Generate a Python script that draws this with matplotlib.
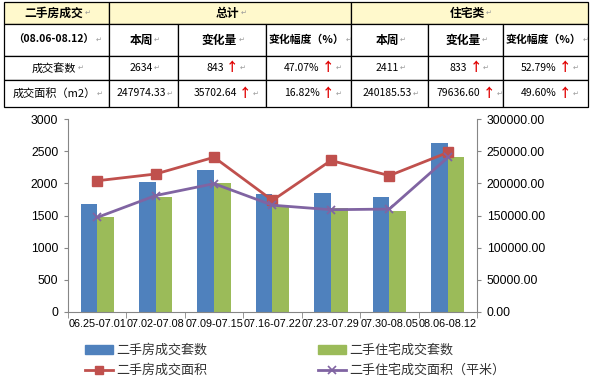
import numpy as np
import matplotlib
matplotlib.use("Agg")
import matplotlib.pyplot as plt
from matplotlib.patches import Rectangle, Patch
from matplotlib.lines import Line2D
from matplotlib.ticker import FormatStrFormatter

# chart data
weeks = ["06.25-07.01", "07.02-07.08", "07.09-07.15", "07.16-07.22",
         "07.23-07.29", "07.30-08.05", "08.06-08.12"]
units_all = [1680, 2020, 2215, 1835, 1850, 1790, 2634]
units_res = [1470, 1790, 2000, 1640, 1610, 1575, 2411]
area_all = [204000, 214500, 240500, 173500, 235500, 212000, 247974.33]
area_res = [147000, 181000, 199500, 166000, 159000, 160000, 240185.53]

names = ["二手房成交套数", "二手住宅成交套数", "二手房成交面积", "二手住宅成交面积（平米）"]

# table data
tbl_title = ["二手房成交", "总计", "住宅类"]
tbl_period = "（08.06-08.12）"
tbl_heads = ["本周", "变化量", "变化幅度（%）"]
tbl_rows = ["成交套数", "成交面积（m2）"]
tbl_total = [["2634", "843", "47.07%"], ["247974.33", "35702.64", "16.82%"]]
tbl_res = [["2411", "833", "52.79%"], ["240185.53", "79636.60", "49.60%"]]

CJK = ["Noto Sans CJK SC", "DejaVu Sans"]
W, H = 590, 383
fig = plt.figure(figsize=(W / 100, H / 100), dpi=100)

#%% table on top
tab = fig.add_axes([0, 0, 1, 1])
tab.set_xlim(0, W)
tab.set_ylim(H, 0)
tab.axis("off")

xs = [4, 109, 178, 266, 351, 428, 503, 588]
ys = [2, 24, 56, 80, 107]
yellow = "#FFF9CC"


def cell(x0, x1, y0, y1, txt, bold=False, arrow=False, size=8, fill="white"):
    tab.add_patch(Rectangle((x0, y0), x1 - x0, y1 - y0, facecolor=fill,
                            edgecolor="black", lw=0.9))
    shift = 7 if arrow else 2.5
    t = tab.text((x0 + x1) / 2 - shift, (y0 + y1) / 2, txt, ha="center", va="center",
                 fontsize=size, fontweight="bold" if bold else "normal",
                 family=CJK, color="black")
    last = t
    if arrow:
        last = tab.annotate("↑", xy=(1, 0.5), xycoords=t, xytext=(1.5, 0),
                            textcoords="offset points", ha="left", va="center",
                            fontsize=9, fontweight="bold", color="#E00000", family=CJK)
    tab.annotate("↵", xy=(1, 0.5), xycoords=last, xytext=(1, 0),
                 textcoords="offset points", ha="left", va="center",
                 fontsize=5, color="#999999", family=["DejaVu Sans"])


# row 1
cell(xs[0], xs[1], ys[0], ys[1], tbl_title[0], bold=True, size=8.5, fill=yellow)
cell(xs[1], xs[4], ys[0], ys[1], tbl_title[1], bold=True, size=8.5, fill=yellow)
cell(xs[4], xs[7], ys[0], ys[1], tbl_title[2], bold=True, size=8.5, fill=yellow)
# row 2
cell(xs[0], xs[1], ys[1], ys[2], tbl_period, bold=True, size=7.5)
for g in range(2):
    for j, h in enumerate(tbl_heads):
        c = 1 + g * 3 + j
        cell(xs[c], xs[c + 1], ys[1], ys[2], h, bold=True, size=8.5 if j < 2 else 7.8)
# data rows
for r, lab in enumerate(tbl_rows):
    cell(xs[0], xs[1], ys[2 + r], ys[3 + r], lab, size=8)
    for g, vals in enumerate([tbl_total[r], tbl_res[r]]):
        for j, v in enumerate(vals):
            c = 1 + g * 3 + j
            cell(xs[c], xs[c + 1], ys[2 + r], ys[3 + r], v, arrow=(j > 0), size=7.5)

#%% chart
ax = fig.add_axes([68 / W, 1 - 312 / H, 409 / W, 193 / H])
x = np.arange(len(weeks))
bw = 0.285
ax.bar(x - bw / 2, units_all, bw, color="#4F81BD", zorder=2)
ax.bar(x + bw / 2, units_res, bw, color="#9BBB59", zorder=2)
ax.set_xlim(-0.5, len(weeks) - 0.5)
ax.set_ylim(0, 3000)
ax.set_yticks(range(0, 3001, 500))
ax.set_xticks(x, weeks)
ax.set_xticks(np.arange(-0.5, len(weeks), 1), minor=True)
ax.tick_params(axis="x", which="major", length=0, pad=5, labelsize=7.8)
ax.tick_params(axis="x", which="minor", length=4, color="#868686")
ax.tick_params(axis="y", length=3, color="#868686", labelsize=8.7, pad=4)
for lab in ax.get_xticklabels() + ax.get_yticklabels():
    lab.set_family("Liberation Sans")

ax2 = ax.twinx()
ax2.plot(x, area_all, color="#C0504D", lw=2, marker="s", ms=7, zorder=3)
ax2.plot(x, area_res, color="#8064A2", lw=2, marker="x", ms=6, mew=1.3, zorder=3)
ax2.set_ylim(0, 300000)
ax2.set_yticks(range(0, 300001, 50000))
ax2.yaxis.set_major_formatter(FormatStrFormatter("%.2f"))
ax2.tick_params(axis="y", length=3, color="#868686", labelsize=8.7, pad=4)
for lab in ax2.get_yticklabels():
    lab.set_family("Liberation Sans")

for a in (ax, ax2):
    a.spines["top"].set_visible(False)
    for s in ("left", "right", "bottom"):
        a.spines[s].set_color("#868686")
ax.spines["right"].set_visible(False)
ax2.spines["left"].set_visible(False)
ax2.spines["bottom"].set_visible(False)

handles = [Patch(color="#4F81BD"),
           Line2D([], [], color="#C0504D", lw=2, marker="s", ms=6),
           Patch(color="#9BBB59"),
           Line2D([], [], color="#8064A2", lw=2, marker="x", ms=6, mew=1.2)]
leg = fig.legend(handles, [names[0], names[2], names[1], names[3]], ncol=2,
                 loc="upper left", bbox_to_anchor=(85 / W, 1 - 344 / H),
                 frameon=False, prop={"family": CJK, "size": 9.4},
                 handlelength=2.15, handletextpad=0.25, columnspacing=8.5,
                 labelspacing=0.55, borderpad=0, borderaxespad=0)
for t in leg.get_texts():
    t.set_color("#333333")

fig.savefig("out.png", dpi=100)
